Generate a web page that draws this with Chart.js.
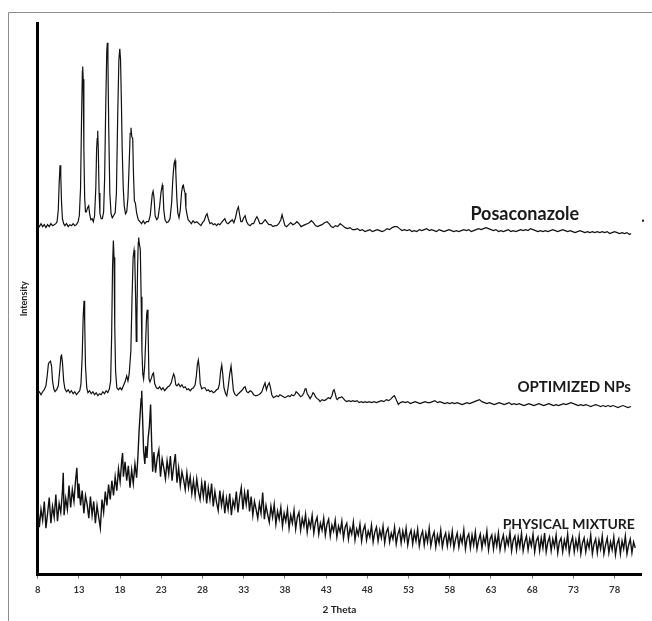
<!DOCTYPE html>
<html>
<head>
<meta charset="utf-8">
<script src="https://cdn.jsdelivr.net/npm/chart.js@4.4.1/dist/chart.umd.min.js"></script>
<style>
  html, body { margin: 0; padding: 0; background: #fff; }
  canvas { display: block; }
</style>
</head>
<body>
<canvas id="xrd" width="652" height="621"></canvas>
<script>
// 2 theta tick labels
const thetaTicks = [8, 13, 18, 23, 28, 33, 38, 43, 48, 53, 58, 63, 68, 73, 78];

const seriesNames = ['Posaconazole', 'OPTIMIZED NPs', 'PHYSICAL MIXTURE'];

// [2 theta, intensity (a.u., stacked)]
const posaconazole = [
  [8.0,354],[8.2,352],[8.4,355],[8.6,352],[8.8,354],[9.0,351],[9.2,354],[9.4,352],[9.6,355],[9.8,353],
  [10.0,354],[10.2,355],[10.35,357],[10.5,369],[10.6,395],[10.71,414],[10.8,403],[10.9,375],[11.0,360],[11.15,355],
  [11.3,353],[11.5,355],[11.7,352],[11.9,354],[12.1,353],[12.3,355],[12.5,353],[12.7,354],[12.9,357],[13.05,363],
  [13.2,391],[13.32,461],[13.42,509],[13.46,514],[13.52,501],[13.6,431],[13.7,381],[13.8,367],[13.9,367],[14.05,371],
  [14.19,373],[14.3,365],[14.45,359],[14.6,360],[14.75,357],[14.9,363],[15.05,391],[15.15,431],[15.22,441],[15.28,449],
  [15.35,431],[15.45,386],[15.55,365],[15.7,360],[15.85,360],[16.0,367],[16.12,401],[16.25,471],[16.38,529],[16.45,538],
  [16.52,521],[16.62,451],[16.75,386],[16.9,365],[17.05,361],[17.2,363],[17.4,366],[17.55,386],[17.7,461],[17.85,521],
  [17.96,532],[18.05,521],[18.15,481],[18.25,431],[18.38,391],[18.5,373],[18.65,365],[18.8,367],[18.95,381],[19.1,416],
  [19.22,446],[19.32,452],[19.42,443],[19.53,441],[19.62,406],[19.73,378],[19.85,376],[20.0,366],[20.2,359],[20.4,357],
  [20.6,355],[20.8,358],[21.0,355],[21.2,357],[21.45,357],[21.65,363],[21.8,376],[21.9,385],[22.0,388],[22.12,381],
  [22.25,363],[22.45,359],[22.6,361],[22.8,373],[22.95,386],[23.05,391],[23.12,394],[23.2,389],[23.3,369],[23.45,359],
  [23.65,356],[23.85,357],[24.05,360],[24.25,376],[24.4,401],[24.55,416],[24.66,419],[24.75,409],[24.88,381],[25.0,366],
  [25.15,361],[25.3,369],[25.45,386],[25.58,393],[25.67,394],[25.78,389],[25.88,386],[25.98,371],[26.1,365],[26.25,359],
  [26.45,357],[26.65,355],[26.85,358],[27.05,356],[27.3,357],[27.55,355],[27.8,353],[28.0,356],[28.2,358],[28.4,363],
  [28.55,365],[28.7,360],[28.9,355],[29.1,356],[29.3,354],[29.5,355],[29.7,353],[29.9,355],[30.1,354],[30.3,356],
  [30.5,358],[30.7,360],[30.9,356],[31.1,355],[31.35,357],[31.6,359],[31.8,356],[32.0,361],[32.2,369],[32.35,372],
  [32.5,364],[32.65,357],[32.8,357],[33.0,361],[33.16,363],[33.35,357],[33.55,354],[33.77,353],[34.0,355],[34.2,355],
  [34.45,360],[34.6,362],[34.78,359],[34.95,355],[35.2,355],[35.4,357],[35.6,359],[35.85,356],[36.05,354],[36.3,354],
  [36.55,352],[36.8,353],[37.0,353],[37.25,355],[37.5,359],[37.65,364],[37.8,359],[38.0,353],[38.2,352],[38.45,354],
  [38.7,356],[38.95,354],[39.2,355],[39.45,357],[39.7,355],[39.95,352],[40.2,353],[40.45,354],[40.7,355],[40.95,356],
  [41.2,358],[41.45,356],[41.7,353],[41.95,352],[42.2,353],[42.5,354],[42.8,356],[43.1,357],[43.35,355],[43.6,352],
  [43.85,351],[44.1,353],[44.4,352],[44.7,355],[45.0,353],[45.3,351],[45.6,350],[45.9,351],[46.2,349],[46.5,349],
  [46.8,350],[47.1,348],[47.4,349],[47.7,347],[48.0,348],[48.3,349],[48.6,347],[48.9,348],[49.2,349],[49.5,348],
  [49.8,347],[50.1,348],[50.4,350],[50.7,349],[51.0,351],[51.3,352],[51.6,352],[51.9,350],[52.2,348],[52.5,349],
  [52.8,348],[53.1,349],[53.4,347],[53.7,348],[54.0,347],[54.3,349],[54.6,348],[54.9,349],[55.2,350],[55.5,348],
  [55.8,349],[56.1,348],[56.4,347],[56.7,349],[57.0,348],[57.3,347],[57.6,348],[57.9,349],[58.2,348],[58.5,347],
  [58.8,348],[59.1,347],[59.4,348],[59.7,349],[60.0,348],[60.3,349],[60.6,347],[60.9,348],[61.2,349],[61.5,350],
  [61.8,349],[62.1,350],[62.4,351],[62.7,350],[63.0,349],[63.3,348],[63.6,349],[63.9,347],[64.2,348],[64.5,347],
  [64.8,348],[65.1,349],[65.4,347],[65.7,348],[66.0,347],[66.3,348],[66.6,349],[66.9,348],[67.2,349],[67.5,348],
  [67.8,350],[68.1,349],[68.4,348],[68.7,347],[69.0,348],[69.3,347],[69.6,348],[69.9,347],[70.2,348],[70.5,349],
  [70.8,348],[71.1,347],[71.4,348],[71.7,349],[72.0,348],[72.3,347],[72.6,348],[72.9,347],[73.2,346],[73.5,347],
  [73.8,348],[74.1,347],[74.4,346],[74.7,347],[75.0,346],[75.3,347],[75.6,346],[75.9,347],[76.2,346],[76.5,347],
  [76.8,346],[77.1,347],[77.4,345],[77.7,346],[78.0,347],[78.3,346],[78.6,345],[78.9,346],[79.2,345],[79.5,346],
  [79.8,344],[80.0,345]
];

const optimizedNPs = [
  [8.0,183],[8.2,185],[8.4,182],[8.6,185],[8.8,187],[9.0,191],[9.15,201],[9.3,213],[9.42,215],[9.55,216],
  [9.68,211],[9.8,196],[9.95,188],[10.1,185],[10.3,187],[10.5,191],[10.7,209],[10.82,221],[10.9,222],[11.0,215],
  [11.15,196],[11.3,188],[11.5,185],[11.7,187],[11.9,184],[12.1,186],[12.3,183],[12.5,185],[12.7,182],[12.9,184],
  [13.1,186],[13.25,193],[13.4,221],[13.52,261],[13.62,277],[13.7,256],[13.8,211],[13.95,189],[14.1,184],[14.3,186],
  [14.5,183],[14.7,185],[14.9,182],[15.1,184],[15.3,181],[15.5,183],[15.7,182],[15.9,185],[16.1,183],[16.3,186],
  [16.5,184],[16.7,188],[16.85,196],[16.97,241],[17.08,311],[17.18,338],[17.26,321],[17.35,251],[17.45,206],[17.6,189],
  [17.8,187],[18.0,189],[18.2,187],[18.4,191],[18.6,195],[18.8,201],[18.95,196],[19.1,203],[19.3,226],[19.45,281],
  [19.58,321],[19.69,328],[19.78,319],[19.88,281],[19.96,236],[20.04,261],[20.12,311],[20.2,336],[20.25,341],[20.32,335],
  [20.45,329],[20.55,281],[20.65,226],[20.75,203],[20.85,198],[20.98,211],[21.1,236],[21.22,263],[21.3,268],[21.38,256],
  [21.5,198],[21.62,195],[21.8,199],[21.95,203],[22.05,204],[22.2,193],[22.4,189],[22.6,188],[22.8,190],[23.0,187],
  [23.2,189],[23.4,186],[23.6,188],[23.8,190],[24.0,191],[24.2,194],[24.35,199],[24.5,203],[24.62,200],[24.75,192],
  [24.9,191],[25.1,193],[25.3,190],[25.5,192],[25.7,189],[25.9,190],[26.1,187],[26.3,188],[26.5,186],[26.7,188],
  [26.9,189],[27.1,192],[27.25,201],[27.38,213],[27.49,217],[27.6,209],[27.72,193],[27.9,188],[28.1,189],[28.3,189],
  [28.5,186],[28.7,187],[28.9,185],[29.1,186],[29.3,184],[29.5,185],[29.7,187],[29.9,188],[30.05,193],[30.2,206],
  [30.33,212],[30.45,203],[30.6,189],[30.8,183],[30.94,181],[31.1,189],[31.3,203],[31.46,211],[31.58,201],[31.75,186],
  [31.95,182],[32.15,181],[32.35,183],[32.6,185],[32.85,187],[33.0,189],[33.16,190],[33.35,185],[33.55,184],[33.77,186],
  [33.97,185],[34.2,182],[34.4,181],[34.58,181],[34.8,182],[35.0,183],[35.2,185],[35.4,190],[35.58,194],[35.75,187],
  [35.9,191],[36.1,194],[36.25,189],[36.4,182],[36.6,179],[36.8,180],[37.0,181],[37.2,180],[37.4,182],[37.6,181],
  [37.8,180],[38.0,179],[38.2,180],[38.4,181],[38.6,180],[38.8,182],[39.0,181],[39.2,182],[39.35,185],[39.5,184],
  [39.7,182],[39.9,180],[40.1,181],[40.3,184],[40.45,188],[40.56,188],[40.7,183],[40.85,181],[41.05,178],[41.25,181],
  [41.4,184],[41.53,183],[41.7,180],[41.9,178],[42.1,177],[42.26,175],[42.5,177],[42.75,176],[43.0,177],[43.25,179],
  [43.5,178],[43.7,181],[43.85,186],[43.96,187],[44.1,183],[44.25,178],[44.36,177],[44.55,179],[44.7,179],[44.9,180],
  [45.1,178],[45.3,176],[45.5,175],[45.75,176],[46.0,175],[46.25,176],[46.5,175],[46.75,176],[47.0,174],[47.25,175],
  [47.5,174],[47.75,175],[47.93,174],[48.2,175],[48.5,174],[48.8,175],[49.1,174],[49.4,175],[49.7,176],[50.0,175],
  [50.3,177],[50.6,176],[50.9,178],[51.1,180],[51.28,181],[51.45,178],[51.6,175],[51.76,172],[52.0,174],[52.3,175],
  [52.6,174],[52.9,175],[53.2,173],[53.5,174],[53.8,175],[54.1,174],[54.4,173],[54.7,174],[55.0,175],[55.3,174],
  [55.6,174],[55.9,175],[56.2,176],[56.5,174],[56.8,175],[57.1,174],[57.4,173],[57.7,174],[58.0,173],[58.3,174],
  [58.6,173],[58.9,174],[59.2,173],[59.5,172],[59.8,173],[60.1,174],[60.4,173],[60.7,174],[61.0,175],[61.3,176],
  [61.6,177],[61.9,175],[62.2,174],[62.5,173],[62.8,174],[63.1,173],[63.4,172],[63.7,173],[64.0,174],[64.3,173],
  [64.6,172],[64.9,173],[65.2,174],[65.5,172],[65.8,173],[66.1,172],[66.4,173],[66.7,172],[67.0,171],[67.3,172],
  [67.6,173],[67.9,172],[68.2,171],[68.5,172],[68.8,173],[69.1,172],[69.4,171],[69.7,172],[70.0,173],[70.3,172],
  [70.6,171],[70.9,172],[71.2,171],[71.5,172],[71.8,173],[72.1,172],[72.4,173],[72.7,174],[73.0,173],[73.3,172],
  [73.6,171],[73.9,172],[74.2,171],[74.5,172],[74.8,171],[75.1,170],[75.4,171],[75.7,172],[76.0,171],[76.3,170],
  [76.6,171],[76.9,170],[77.2,171],[77.5,170],[77.8,171],[78.1,170],[78.4,169],[78.7,170],[79.0,171],[79.3,170],
  [79.6,169],[80.0,170]
];

const physicalMixture = [
  [8.0,70],[8.2,48],[8.4,66],[8.6,55],[8.8,74],[9.0,47],[9.2,62],[9.4,78],[9.6,52],[9.8,69],
  [10.0,58],[10.2,81],[10.4,54],[10.6,72],[10.8,63],[11.0,84],[11.1,103],[11.2,60],[11.4,77],[11.6,66],
  [11.8,90],[12.0,68],[12.2,86],[12.4,74],[12.6,96],[12.75,108],[12.9,78],[13.0,92],[13.2,70],[13.4,85],
  [13.6,62],[13.8,80],[14.0,71],[14.2,57],[14.4,79],[14.6,60],[14.8,74],[15.0,52],[15.2,70],[15.4,58],
  [15.6,47],[15.8,76],[16.0,63],[16.2,84],[16.4,70],[16.6,91],[16.8,76],[17.0,95],[17.2,80],[17.4,99],
  [17.6,85],[17.8,107],[18.0,94],[18.2,116],[18.3,123],[18.4,99],[18.6,114],[18.8,95],[19.0,110],[19.2,88],
  [19.4,106],[19.6,92],[19.8,112],[20.0,98],[20.15,118],[20.3,145],[20.45,165],[20.55,178],[20.62,186],[20.72,160],
  [20.85,125],[21.0,112],[21.12,130],[21.25,118],[21.4,138],[21.55,150],[21.7,172],[21.82,135],[21.95,104],[22.1,124],
  [22.3,103],[22.5,118],[22.7,126],[22.9,99],[23.1,117],[23.3,108],[23.5,97],[23.7,115],[23.9,102],[24.1,120],
  [24.3,95],[24.5,110],[24.7,122],[24.9,93],[25.1,108],[25.3,90],[25.5,104],[25.7,96],[25.9,86],[26.1,103],
  [26.3,88],[26.5,99],[26.7,82],[26.9,95],[27.1,80],[27.3,97],[27.5,84],[27.7,76],[27.9,93],[28.1,79],
  [28.3,95],[28.5,72],[28.7,88],[28.9,76],[29.1,92],[29.3,69],[29.5,84],[29.7,73],[29.9,65],[30.1,85],
  [30.3,70],[30.5,81],[30.7,62],[30.9,77],[31.1,66],[31.3,82],[31.5,60],[31.7,75],[31.9,68],[32.1,84],
  [32.3,63],[32.5,78],[32.7,88],[32.9,66],[33.1,83],[33.3,71],[33.5,86],[33.7,64],[33.9,79],[34.1,60],
  [34.3,74],[34.5,66],[34.7,57],[34.9,72],[35.1,62],[35.3,83],[35.5,56],[35.7,70],[35.9,61],[36.1,53],
  [36.3,69],[36.5,58],[36.7,71],[36.9,51],[37.1,64],[37.3,56],[37.5,68],[37.7,49],[37.9,62],[38.1,54],
  [38.3,66],[38.5,47],[38.7,60],[38.9,52],[39.1,65],[39.3,46],[39.5,58],[39.7,63],[39.9,45],[40.1,57],
  [40.3,49],[40.5,61],[40.7,43],[40.9,55],[41.1,48],[41.3,60],[41.5,42],[41.7,53],[41.9,58],[42.1,41],
  [42.3,52],[42.5,45],[42.7,57],[42.9,40],[43.1,51],[43.3,56],[43.5,39],[43.7,50],[43.9,44],[44.1,55],
  [44.3,38],[44.5,49],[44.7,43],[44.9,54],[45.1,37],[45.3,48],[45.5,52],[45.7,36],[45.9,47],[46.1,41],
  [46.3,53],[46.5,35],[46.7,46],[46.9,40],[47.1,51],[47.3,34],[47.5,45],[47.7,50],[47.9,35],[48.1,44],
  [48.3,38],[48.5,50],[48.7,33],[48.9,43],[49.1,48],[49.3,34],[49.5,45],[49.7,37],[49.9,49],[50.1,32],
  [50.3,43],[50.5,47],[50.7,33],[50.9,42],[51.1,36],[51.3,48],[51.5,31],[51.7,41],[51.9,46],[52.1,32],
  [52.3,44],[52.5,35],[52.7,47],[52.9,30],[53.1,40],[53.3,45],[53.5,31],[53.7,43],[53.9,34],[54.1,46],
  [54.3,29],[54.5,39],[54.7,44],[54.9,30],[55.1,42],[55.3,33],[55.5,47],[55.7,29],[55.9,38],[56.1,43],
  [56.3,28],[56.5,40],[56.7,32],[56.9,45],[57.1,28],[57.3,37],[57.5,42],[57.7,29],[57.9,41],[58.1,31],
  [58.3,44],[58.5,27],[58.7,36],[58.9,42],[59.1,28],[59.3,39],[59.5,32],[59.7,45],[59.9,26],[60.1,37],
  [60.3,41],[60.5,27],[60.7,40],[60.9,30],[61.1,43],[61.3,26],[61.5,35],[61.7,41],[61.9,27],[62.1,38],
  [62.3,31],[62.5,44],[62.7,25],[62.9,36],[63.1,40],[63.3,26],[63.5,39],[63.7,29],[63.9,42],[64.1,25],
  [64.3,34],[64.5,40],[64.7,26],[64.9,37],[65.1,30],[65.3,43],[65.5,24],[65.7,35],[65.9,39],[66.1,25],
  [66.3,38],[66.5,28],[66.7,42],[66.9,24],[67.1,33],[67.3,39],[67.5,25],[67.7,36],[67.9,29],[68.1,41],
  [68.3,23],[68.5,34],[68.7,38],[68.9,24],[69.1,37],[69.3,27],[69.5,42],[69.7,23],[69.9,33],[70.1,38],
  [70.3,24],[70.5,36],[70.7,28],[70.9,40],[71.1,22],[71.3,33],[71.5,37],[71.7,23],[71.9,35],[72.1,27],
  [72.3,41],[72.5,22],[72.7,32],[72.9,38],[73.1,23],[73.3,35],[73.5,26],[73.7,39],[73.9,21],[74.1,32],
  [74.3,37],[74.5,23],[74.7,34],[74.9,27],[75.1,40],[75.3,21],[75.5,31],[75.7,36],[75.9,22],[76.1,35],
  [76.3,26],[76.5,39],[76.7,21],[76.9,30],[77.1,37],[77.3,22],[77.5,33],[77.7,25],[77.9,38],[78.1,20],
  [78.3,31],[78.5,36],[78.7,21],[78.9,34],[79.1,26],[79.3,39],[79.5,21],[79.7,30],[79.9,36],[80.1,22],
  [80.3,33],[80.5,27]
];

const toPoints = arr => arr.map(p => ({ x: p[0], y: p[1] }));

// series label anchors in data units: [2 theta, intensity]
const labelSpots = [
  { text: seriesNames[0], at: [67.1, 365], size: 18, align: 'center' },
  { text: seriesNames[1], at: [79.98, 190], size: 15, align: 'right' },
  { text: seriesNames[2], at: [80.46, 51], size: 14, align: 'right' }
];

const FONT = 'Lato, "Open Sans", sans-serif';

const frame = {
  id: 'frame',
  beforeDraw(chart) {
    const ctx = chart.ctx;
    ctx.save();
    ctx.strokeStyle = '#8c8c8c';
    ctx.lineWidth = 1;
    ctx.beginPath();
    ctx.moveTo(8.5, 621);
    ctx.lineTo(8.5, 12.5);
    ctx.lineTo(652, 12.5);
    ctx.stroke();
    ctx.restore();
  },
  afterDraw(chart) {
    const ctx = chart.ctx;
    const xs = chart.scales.x, ys = chart.scales.y;
    ctx.save();
    ctx.fillStyle = '#1a1a1a';
    ctx.textBaseline = 'middle';
    labelSpots.forEach(l => {
      ctx.font = 'bold ' + l.size + 'px ' + FONT;
      ctx.textAlign = l.align;
      ctx.fillText(l.text, xs.getPixelForValue(l.at[0]), ys.getPixelForValue(l.at[1]));
    });
    // stray dot right of the top label
    ctx.fillRect(xs.getPixelForValue(81.2) + 1, ys.getPixelForValue(359), 2, 2);
    ctx.restore();
  }
};

const lineStyle = { borderColor: '#111', borderWidth: 1.2, pointRadius: 0, tension: 0, fill: false };

new Chart(document.getElementById('xrd'), {
  type: 'line',
  data: {
    datasets: [
      { label: seriesNames[0], data: toPoints(posaconazole), ...lineStyle },
      { label: seriesNames[1], data: toPoints(optimizedNPs), ...lineStyle },
      { label: seriesNames[2], data: toPoints(physicalMixture), ...lineStyle, borderWidth: 1.4 }
    ]
  },
  options: {
    responsive: false,
    animation: false,
    layout: { padding: { top: 23, left: 14.6, right: 11, bottom: 1 } },
    plugins: { legend: { display: false }, tooltip: { enabled: false } },
    scales: {
      x: {
        type: 'linear',
        min: 8,
        max: 81.2,
        afterBuildTicks: s => { s.ticks = thetaTicks.map(v => ({ value: v })); },
        ticks: { color: '#333', font: { family: FONT, size: 9.5, weight: 'bold' }, padding: 6, maxRotation: 0, autoSkip: false },
        grid: { display: true, drawOnChartArea: false, drawTicks: true, tickLength: 4, color: '#777' },
        border: { display: true, width: 3, color: '#000' },
        title: { display: true, text: '2 Theta', color: '#222', font: { family: FONT, size: 10, weight: 'bold' }, padding: { top: 2, bottom: 4 } }
      },
      y: {
        min: 0,
        max: 558,
        ticks: { display: false },
        grid: { display: false, drawTicks: false },
        border: { display: true, width: 3, color: '#000' },
        title: { display: true, text: 'Intensity', color: '#222', font: { family: FONT, size: 9, weight: 'bold' }, padding: { top: 4, bottom: 8.3 } }
      }
    }
  },
  plugins: [frame]
});
</script>
</body>
</html>
